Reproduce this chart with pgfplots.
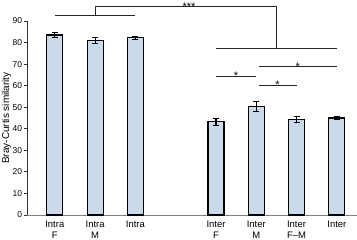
\documentclass[border=0pt]{standalone}
\usepackage{pgfplots}
\pgfplotsset{compat=1.18}
\usepackage{fontspec}
\setmainfont{Liberation Sans}
\definecolor{barfill}{HTML}{CBDAEA}
\definecolor{axgray}{HTML}{808080}
\begin{document}
\begin{tikzpicture}
\begin{axis}[
  scale only axis,
  width=330bp, height=194bp,
  xmin=-0.69, xmax=7.5,
  ymin=0, ymax=90,
  ytick={0,10,...,90},
  xtick={0,1,2,4,5,6,7},
  xticklabels={{Intra\\F},{Intra\\M},{Intra},{Inter\\F},{Inter\\M},{Inter\\F--M},{Inter}},
  xticklabel style={align=center, font=\fontsize{9.5}{11.5}\selectfont, yshift=1bp},
  yticklabel style={font=\fontsize{8.5}{9}\selectfont, xshift=1.5bp},
  /pgf/number format/assume math mode=true,
  ylabel={Bray-Curtis similarity},
  ylabel style={font=\fontsize{10}{11}\selectfont, yshift=-5.5bp},
  axis x line*=bottom,
  axis y line*=left,
  x axis line style={draw=axgray, line width=0.9bp},
  y axis line style={draw=black!80, line width=0.9bp},
  y tick style={draw=black!80, line width=0.9bp},
  tick align=outside,
  major tick length=3bp,
  x tick style={draw=none},
  clip=false,
  ybar, bar width=16bp,
]
\addplot[fill=barfill, draw=black, line width=1.1bp,
  error bars/.cd, y dir=both, y explicit,
  error bar style={line width=1.1bp, black},
  error mark options={rotate=90, mark size=3bp, line width=1.1bp, black}]
  coordinates {
  (0,83.5) +- (0,1.3)
  (1,81.0) +- (0,1.5)
  (2,82.3) +- (0,0.7)
  (4,43.2) +- (0,1.5)
  (5,50.3) +- (0,2.2)
  (6,44.2) +- (0,1.3)
  (7,45.0) +- (0,0.8)
  };
% significance brackets
\draw[line width=0.9bp, black!85] (axis cs:0,92.8) -- (axis cs:2,92.8);
\draw[line width=0.9bp, black!85] (axis cs:1,92.8) -- (axis cs:1,96.7) -- (axis cs:5.5,96.7) -- (axis cs:5.5,77.4);
\draw[line width=0.9bp, black!85] (axis cs:4,77.4) -- (axis cs:7,77.4);
\node[anchor=base, inner sep=0pt, font=\fontsize{11}{11}\selectfont, yshift=-3.5bp] at (axis cs:3.33,96.7) {***};
\draw[line width=0.9bp, black!85] (axis cs:4,64.4) -- (axis cs:5,64.4);
\node[anchor=base, inner sep=0pt, font=\fontsize{11}{11}\selectfont, yshift=-3.5bp] at (axis cs:4.5,64.4) {*};
\draw[line width=0.9bp, black!85] (axis cs:5.06,68.7) -- (axis cs:7,68.7);
\node[anchor=base, inner sep=0pt, font=\fontsize{11}{11}\selectfont, yshift=-3.5bp] at (axis cs:6.03,68.7) {*};
\draw[line width=0.9bp, black!85] (axis cs:5.06,60.3) -- (axis cs:6,60.3);
\node[anchor=base, inner sep=0pt, font=\fontsize{11}{11}\selectfont, yshift=-3.5bp] at (axis cs:5.53,60.3) {*};
\end{axis}
\pgfresetboundingbox
\useasboundingbox ([shift={(-27bp,-25bp)}]current axis.south west) rectangle ([shift={(0bp,21bp)}]current axis.north east);
\end{tikzpicture}
\end{document}
